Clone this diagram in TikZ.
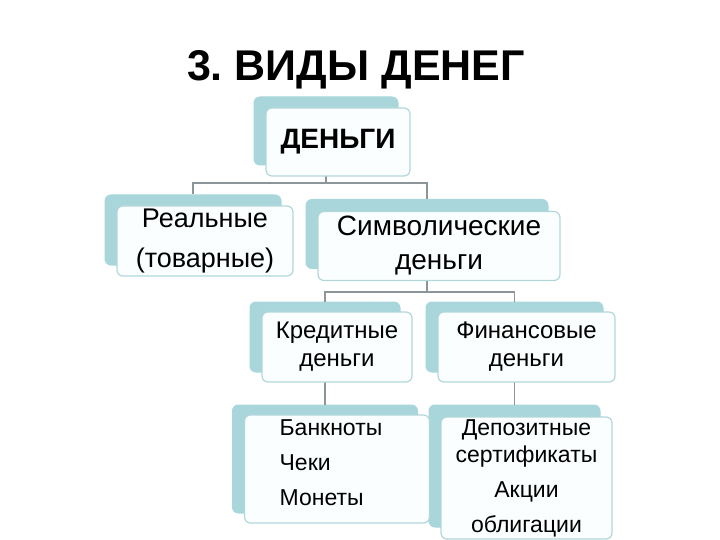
\documentclass[tikz,border=0pt]{standalone}
\usepackage{fontspec}
\setmainfont{Liberation Sans}
\usetikzlibrary{calc}
\definecolor{box_back}{RGB}{168, 214, 218}
\definecolor{box_line}{RGB}{178, 215, 219}
\definecolor{box_fill}{RGB}{251, 254, 254}
\definecolor{link_gray}{RGB}{140, 150, 152}
\tikzstyle{bk}=[rectangle,rounded corners=6pt,fill=box_back,draw=box_back,
  line width=1pt]
\tikzstyle{fr}=[rectangle,rounded corners=6pt,fill=box_fill,draw=box_line,
  line width=1.2pt,align=center,inner sep=0pt]
\tikzstyle{ln}=[draw=link_gray,line width=1.5pt]
\tikzstyle{none}=[]
\frenchspacing

\begin{document}
\begin{tikzpicture}[x=1pt,y=-1pt]
            \useasboundingbox (0,0) rectangle (720,540);
            \node [style=none,font=\fontsize{43}{50}\selectfont\bfseries] (t) at (356, 70) {3. ВИДЫ ДЕНЕГ};
            \node [style=bk,minimum width=144pt,minimum height=68pt] (0b) at (326, 131) {};
            \node [style=bk,minimum width=176pt,minimum height=70pt] (1b) at (193, 230) {};
            \node [style=bk,minimum width=242pt,minimum height=69pt] (2b) at (427, 234) {};
            \node [style=bk,minimum width=150pt,minimum height=70pt] (3b) at (325, 337) {};
            \node [style=bk,minimum width=177pt,minimum height=70pt] (4b) at (514.5, 337) {};
            \node [style=bk,minimum width=185pt,minimum height=108pt] (5b) at (325, 459) {};
            \node [style=bk,minimum width=171pt,minimum height=122pt] (6b) at (514.5, 466) {};
            \draw [style=ln] (0b.center) -- ++(0, 52) -| (1b.north);
            \draw [style=ln] (0b.center) -- ++(0, 52) -| (2b.north);
            \draw [style=ln] (2b.center) -- ++(0, 58) -| (3b.north);
            \draw [style=ln] (2b.center) -- ++(0, 58) -| (4b.north);
            \draw [style=ln] (3b.center) to (5b.north);
            \draw [style=ln] (4b.center) to (6b.north);
            \node [style=fr,minimum width=144pt,minimum height=68pt,font=\fontsize{28}{32}\selectfont\bfseries] (0) at (338, 142) {ДЕНЬГИ};
            \node [style=fr,minimum width=176pt,minimum height=70pt,font=\fontsize{27}{40}\selectfont] (1) at (205, 241) {Реальные\\(товарные)};
            \node [style=fr,minimum width=242pt,minimum height=69pt,font=\fontsize{28}{34}\selectfont] (2) at (439, 246) {Символические\\деньги};
            \node [style=fr,minimum width=150pt,minimum height=70pt,font=\fontsize{24}{28}\selectfont] (3) at (337, 347) {Кредитные\\деньги};
            \node [style=fr,minimum width=177pt,minimum height=70pt,font=\fontsize{24}{28}\selectfont] (4) at (526.5, 347) {Финансовые\\деньги};
            \node [style=fr,minimum width=185pt,minimum height=108pt] (5) at (337, 469) {};
            \node [style=none,align=left,font=\fontsize{23}{35}\selectfont] (5t) at (331, 463) {Банкноты\\Чеки\\Монеты};
            \node [style=fr,minimum width=171pt,minimum height=122pt,font=\fontsize{23}{27}\selectfont] (6) at (526.5, 478) {Депозитные\\сертификаты\\[8pt]Акции\\[8pt]облигации};
    \end{tikzpicture}
\end{document}
